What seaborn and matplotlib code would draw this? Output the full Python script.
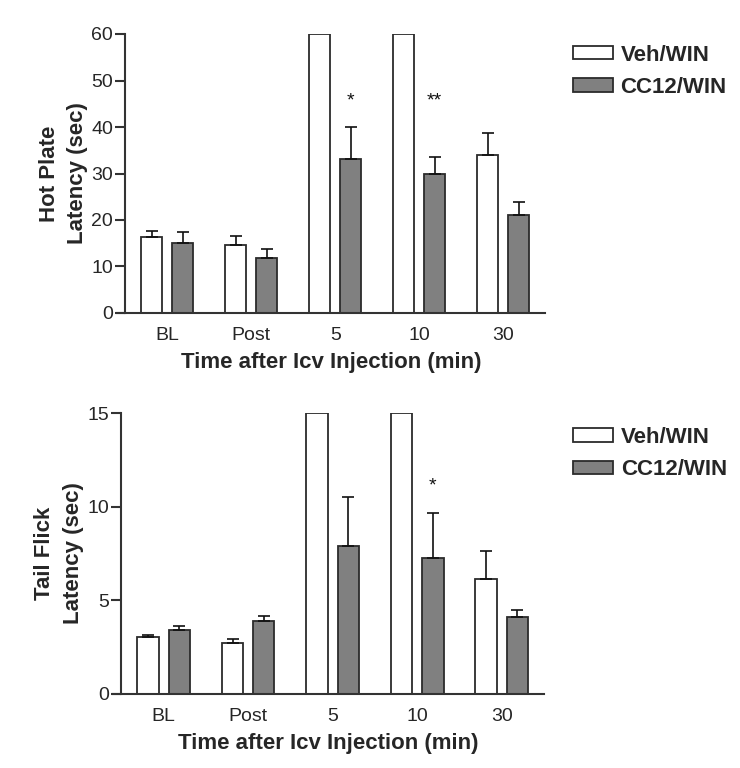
import numpy as np
import pandas as pd
import seaborn as sns
from matplotlib import pyplot as plt

# time points and groups
times = ['BL', 'Post', '5', '10', '30']
groups = ['Veh/WIN', 'CC12/WIN']

# Hot plate latency (sec): means and SEM (nan = cut-off, no error bar)
hp_veh = [16.4, 14.6, 60.0, 60.0, 33.9]
hp_veh_sem = [1.2, 2.0, np.nan, np.nan, 4.8]
hp_cc12 = [15.1, 11.9, 33.2, 29.8, 21.1]
hp_cc12_sem = [2.3, 1.9, 6.9, 3.7, 2.8]

# Tail flick latency (sec)
tf_veh = [3.06, 2.74, 15.0, 15.0, 6.15]
tf_veh_sem = [0.11, 0.18, np.nan, np.nan, 1.48]
tf_cc12 = [3.40, 3.92, 7.91, 7.27, 4.10]
tf_cc12_sem = [0.22, 0.25, 2.58, 2.37, 0.39]

# significance marks on CC12/WIN bars: (time, text, y position)
hp_marks = [('5', '*', 45.5), ('10', '**', 45.5)]
tf_marks = [('10', '*', 11.1)]

sns.set_style('ticks')
plt.rcParams['font.family'] = ['Liberation Sans', 'DejaVu Sans']

palette = {'Veh/WIN': 'white', 'CC12/WIN': '#808080'}
edge = '#2b2b2b'


def panel(ax, veh, veh_sem, cc12, cc12_sem, ymax, yticks, ylabel, marks,
          leg_anchor):
    df = pd.DataFrame({
        'Time': times * 2,
        'Group': [groups[0]] * 5 + [groups[1]] * 5,
        'Latency': veh + cc12,
    })
    sns.barplot(data=df, x='Time', y='Latency', hue='Group', order=times,
                hue_order=groups, palette=palette, errorbar=None,
                width=0.74, gap=0.32, edgecolor=edge, linewidth=1.3,
                ax=ax, legend=True)
    # upper-only error bars at the drawn bar centres
    for cont, m, s in zip(ax.containers, [veh, cc12], [veh_sem, cc12_sem]):
        xs = np.array([b.get_x() + b.get_width() / 2 for b in cont])
        m = np.array(m)
        s = np.array(s)
        ok = ~np.isnan(s)
        ax.errorbar(xs[ok], m[ok], yerr=[np.zeros(ok.sum()), s[ok]],
                    fmt='none', ecolor='#111111', elinewidth=1.2,
                    capsize=4, capthick=1.2, zorder=1)
    cc_bars = ax.containers[1]
    for t, txt, y in marks:
        b = cc_bars[times.index(t)]
        ax.text(b.get_x() + b.get_width() / 2, y, txt, ha='center',
                va='center', fontsize=14, color='#111111')

    ax.set_ylim(0, ymax)
    ax.set_yticks(yticks)
    ax.set_xlim(-0.6, 4.5)
    sns.despine(ax=ax)
    ax.spines['left'].set_position(('data', -0.5))
    for sp in ['left', 'bottom']:
        ax.spines[sp].set_linewidth(1.5)
        ax.spines[sp].set_color('#333333')
    ax.tick_params(axis='y', length=7, width=1.5, color='#333333',
                   labelsize=14, pad=2)
    ax.tick_params(axis='x', length=0, labelsize=14, pad=10)
    ax.set_xlabel('Time after Icv Injection (min)', fontsize=16,
                  fontweight='bold', labelpad=6)
    ax.set_ylabel(ylabel, fontsize=16, fontweight='bold', linespacing=1.45)
    ax.yaxis.set_label_coords(-0.068, 0.5)

    handles, labels = ax.get_legend_handles_labels()
    ax.legend(handles, labels, loc='upper left', frameon=False,
              bbox_to_anchor=leg_anchor, borderaxespad=0, borderpad=0,
              prop={'weight': 'bold', 'size': 16},
              handlelength=1.8, handleheight=0.55, handletextpad=0.35,
              labelspacing=0.5)


fig = plt.figure(figsize=(7.4, 7.68), dpi=100)
ax1 = fig.add_axes([117 / 740, 1 - 313 / 768, 428 / 740, 279 / 768])
ax2 = fig.add_axes([113 / 740, 1 - 694 / 768, 431 / 740, 281 / 768])

panel(ax1, hp_veh, hp_veh_sem, hp_cc12, hp_cc12_sem, 60,
      [0, 10, 20, 30, 40, 50, 60], 'Hot Plate\nLatency (sec)', hp_marks,
      (1.065, 0.962))
panel(ax2, tf_veh, tf_veh_sem, tf_cc12, tf_cc12_sem, 15,
      [0, 5, 10, 15], 'Tail Flick\nLatency (sec)', tf_marks,
      (1.067, 0.95))

fig.savefig('out.png', dpi=100)
